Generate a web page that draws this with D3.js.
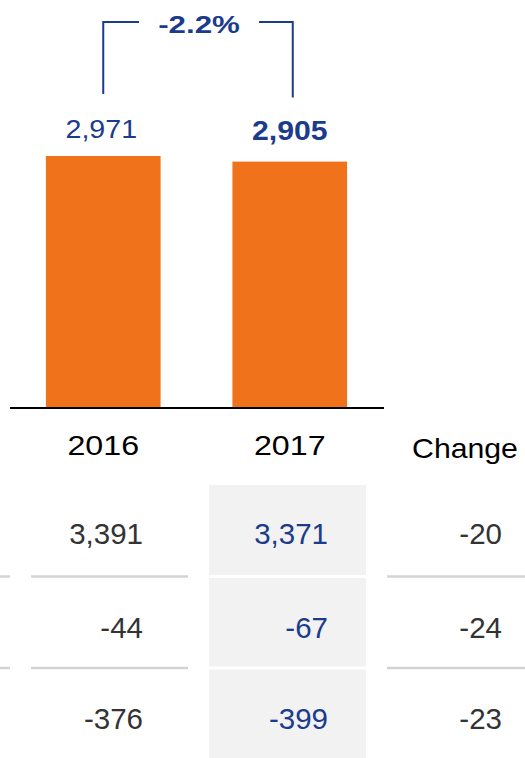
<!DOCTYPE html>
<html>
<head>
<meta charset="utf-8">
<script src="https://cdn.jsdelivr.net/npm/d3@7"></script>
<style>
  html, body { margin: 0; padding: 0; background: #fff; }
  svg { display: block; }
  text { font-family: "Liberation Sans", Arial, sans-serif; }
</style>
</head>
<body>
<svg id="chart" width="525" height="758"></svg>
<script>
// ---- data ----
const categories = ["2016", "2017"];
const barValues = [2971, 2905];
const changeLabel = "-2.2%";
const tableHeader = ["2016", "2017", "Change"];
const col2016 = [3391, -44, -376];
const col2017 = [3371, -67, -399];
const colChange = [-20, -24, -23];

// ---- styles ----
const BLUE = "#1b3b8d";
const ORANGE = "#f0731c";
const GRAY_TXT = "#333333";
const fmt = d3.formatLocale({decimal: ".", thousands: ",", grouping: [3], currency: ["", ""], minus: "-"}).format(",");

const svg = d3.select("#chart");

// scales
const x = d3.scaleBand().domain(categories).range([10, 383]).paddingInner(0.385).paddingOuter(0.1925);
const y = d3.scaleLinear().domain([0, 2971]).range([408, 156]);

// bars
svg.append("g").selectAll("rect").data(barValues).join("rect")
  .attr("x", (d, i) => x(categories[i]))
  .attr("y", d => y(d))
  .attr("width", x.bandwidth())
  .attr("height", d => y(0) - y(d))
  .attr("fill", ORANGE);

// axis baseline
const axis = d3.axisBottom(x).tickSize(0).tickFormat("");
svg.append("g").attr("transform", `translate(0,${y(0)})`).call(axis)
  .call(g => g.select(".domain").attr("stroke", "#000").attr("stroke-width", 2).attr("d", "M10,0H384"));

function txt(sel, s, xx, yy, size, sx, anchor, weight, color) {
  sel.append("text")
    .attr("transform", `translate(${xx},${yy}) scale(${sx},1)`)
    .attr("text-anchor", anchor)
    .attr("font-size", size)
    .attr("font-weight", weight)
    .attr("fill", color)
    .text(s);
}

// bar value labels
barValues.forEach((v, i) => {
  const cx = x(categories[i]) + x.bandwidth() / 2;
  const last = i === barValues.length - 1;
  txt(svg, fmt(v), cx - (last ? 0 : 2), y(v) - (last ? 22 : 18), last ? 27 : 26, last ? 1.12 : 1.1, "middle", last ? "bold" : "normal", BLUE);
});

// bracket
const cx0 = x(categories[0]) + x.bandwidth() / 2;
const cx1 = x(categories[1]) + x.bandwidth() / 2 + 3;
const topY = 22;
const mid = (cx0 + cx1) / 2;
const bracket = svg.append("g").attr("fill", "none").attr("stroke", BLUE).attr("stroke-width", 2);
bracket.append("path").attr("d", `M${cx0},${y(barValues[0]) - 62}V${topY}H${mid - 59}`);
bracket.append("path").attr("d", `M${mid + 61},${topY}H${cx1}V${y(barValues[1]) - 64}`);
txt(svg, changeLabel, mid + 1, 33, 23, 1.36, "middle", "bold", BLUE);

// category / header labels
txt(svg, tableHeader[0], x(categories[0]) + x.bandwidth() / 2, 455, 28, 1.15, "middle", "normal", "#000");
txt(svg, tableHeader[1], x(categories[1]) + x.bandwidth() / 2, 455, 28, 1.15, "middle", "normal", "#000");
txt(svg, tableHeader[2], 465, 458, 28, 1.08, "middle", "normal", "#000");

// table
const rowBase = [544, 638, 729];
const sepY = [576.5, 668];
svg.append("rect").attr("x", 209).attr("y", 485).attr("width", 157).attr("height", 273).attr("fill", "#f2f2f2");
sepY.forEach(sy => {
  [[0, 10], [31, 188], [387, 525]].forEach(([a, b]) => {
    svg.append("line").attr("x1", a).attr("x2", b).attr("y1", sy).attr("y2", sy)
      .attr("stroke", "#d3d3d3").attr("stroke-width", 2.5);
  });
  svg.append("line").attr("x1", 209).attr("x2", 366).attr("y1", sy).attr("y2", sy)
    .attr("stroke", "#ffffff").attr("stroke-width", 3);
});
col2016.forEach((v, i) => txt(svg, fmt(v), 143, rowBase[i], 29.5, 1, "end", "normal", GRAY_TXT));
col2017.forEach((v, i) => txt(svg, fmt(v), 328, rowBase[i], 29.5, 1, "end", "normal", BLUE));
colChange.forEach((v, i) => txt(svg, fmt(v), 502, rowBase[i], 29.5, 1, "end", "normal", GRAY_TXT));
</script>
</body>
</html>
